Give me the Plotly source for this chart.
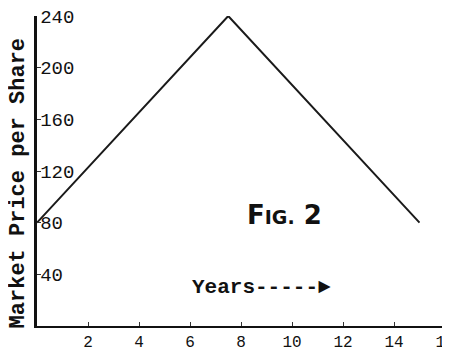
"""Fig. 2: market price per share over the years."""
import plotly.graph_objects as go

years = [0, 7.5, 15]
price = [80, 240, 80]

x_ticks = [2, 4, 6, 8, 10, 12, 14, 16]
y_ticks = [40, 80, 120, 160, 200, 240]

mono = 'Liberation Mono'
ink = '#111'

fig = go.Figure(go.Scatter(x=years, y=price, mode='lines',
                           line=dict(color='#1a1a1a', width=2),
                           hoverinfo='skip', showlegend=False))

fig.update_xaxes(range=[0, 16], tickvals=x_ticks, ticks='inside',
                 ticklen=4, tickcolor='#333', showgrid=False,
                 zeroline=False, showline=True, linecolor=ink,
                 linewidth=2, automargin=False, ticklabeloverflow='allow',
                 tickfont=dict(family=mono, size=16, color=ink))
# y tick labels sit just inside the axis, like the typed original
fig.update_yaxes(range=[0, 240], tickvals=y_ticks, ticks='inside',
                 ticklen=4, tickcolor='#333', showgrid=False,
                 zeroline=False, showline=True, linecolor=ink,
                 linewidth=3, automargin=False,
                 ticklabelposition='inside', ticklabeloverflow='allow',
                 ticklabelstandoff=0,
                 tickfont=dict(family=mono, size=19, color=ink))

fig.add_annotation(x=0, y=0.46, xref='paper', yref='paper',
                   showarrow=False, textangle=-90, xanchor='center',
                   xshift=-19, text='<b>Market Price per Share</b>',
                   font=dict(family=mono, size=22, color=ink))

fig.add_annotation(x=9.7, y=86, xref='x', yref='y', showarrow=False,
                   text="<b>F<span style='font-size:19px'>IG.</span> 2</b>",
                   font=dict(family='DejaVu Sans', size=26, color=ink))
fig.add_annotation(x=8.8, y=29.5, xref='x', yref='y', showarrow=False,
                   text='<b>Years-----►</b>',
                   font=dict(family=mono, size=21, color=ink))

# page body keeps its 8px margin, so the figure is sized to fit inside it
fig.update_layout(width=442, height=346, plot_bgcolor='white',
                  paper_bgcolor='white',
                  margin=dict(l=29, r=5, t=8, b=28))

fig.write_html('out.html')
